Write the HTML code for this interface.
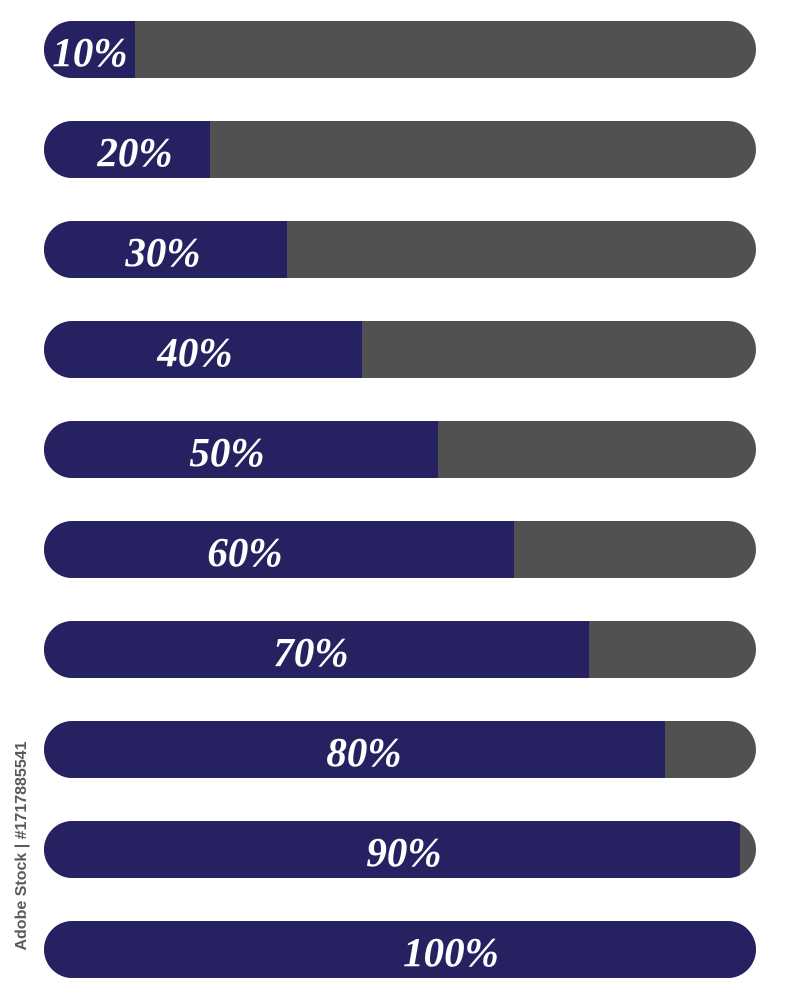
<!DOCTYPE html>
<html><head><style>
body{margin:0;width:800px;height:1000px;background:#fff;position:relative;overflow:hidden}
.bar{position:absolute;left:44px;width:712px;height:57px;border-radius:28.5px;background:#505150;overflow:hidden}
.fill{position:absolute;left:0;top:0;height:57px;background:#262262}
.t{position:absolute;top:7px;height:57px;line-height:59px;transform:translateX(-50%);color:#fff;font:italic bold 41px "Liberation Serif",serif;white-space:nowrap}
.v{position:absolute;left:22px;top:846px;transform:translate(-50%,-50%) rotate(-90deg);color:#5a5a5a;font:bold 16px "Liberation Sans",sans-serif;white-space:nowrap}
</style></head><body>
<div class="bar" style="top:21px"><div class="fill" style="width:91px"></div><div class="t" style="left:46px">10%</div></div>
<div class="bar" style="top:121px"><div class="fill" style="width:166px"></div><div class="t" style="left:91px">20%</div></div>
<div class="bar" style="top:221px"><div class="fill" style="width:243px"></div><div class="t" style="left:119px">30%</div></div>
<div class="bar" style="top:321px"><div class="fill" style="width:318px"></div><div class="t" style="left:151px">40%</div></div>
<div class="bar" style="top:421px"><div class="fill" style="width:394px"></div><div class="t" style="left:183px">50%</div></div>
<div class="bar" style="top:521px"><div class="fill" style="width:470px"></div><div class="t" style="left:201px">60%</div></div>
<div class="bar" style="top:621px"><div class="fill" style="width:545px"></div><div class="t" style="left:267px">70%</div></div>
<div class="bar" style="top:721px"><div class="fill" style="width:621px"></div><div class="t" style="left:320px">80%</div></div>
<div class="bar" style="top:821px"><div class="fill" style="width:696px"></div><div class="t" style="left:360px">90%</div></div>
<div class="bar" style="top:921px"><div class="fill" style="width:712px"></div><div class="t" style="left:407px">100%</div></div>
<div class="v">Adobe Stock | #1717885541</div>
</body></html>
